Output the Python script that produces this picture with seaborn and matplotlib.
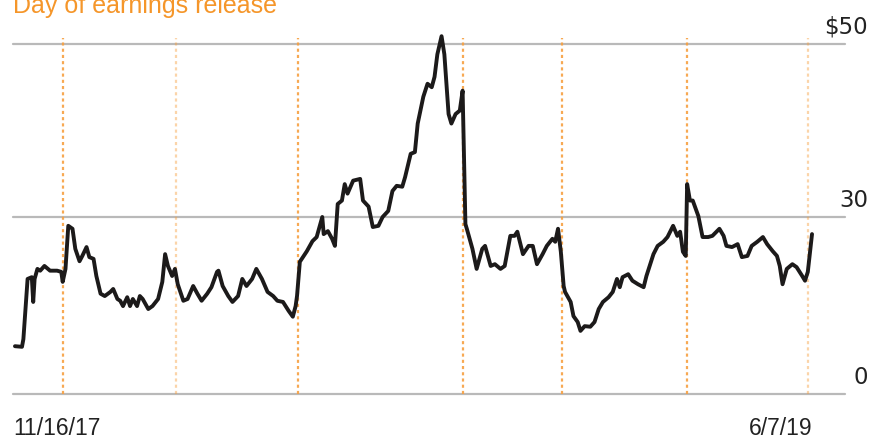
import numpy as np
import pandas as pd
import matplotlib
matplotlib.use("Agg")
import matplotlib.pyplot as plt
import seaborn as sns

# ---- data ----
start_date = "2017-11-16"
end_date = "2019-06-07"
# trading-day offsets (days since 11/16/17) and closing price
days = [0, 5, 6, 9, 12, 13, 14, 16, 18, 21, 25, 30, 33, 34, 36, 38, 41, 43, 46, 48,
        51, 53, 56, 58, 61, 64, 68, 70, 73, 75, 77, 80, 82, 84, 87, 89, 91, 95, 98, 102,
        105, 107, 109, 112, 114, 116, 120, 123, 127, 130, 133, 137, 140, 144, 145, 148, 152, 155, 159, 162,
        165, 169, 172, 176, 180, 184, 187, 191, 195, 198, 200, 201, 203, 208, 212, 215, 219, 220, 223, 226,
        228, 230, 233, 235, 237, 241, 246, 248, 252, 255, 259, 262, 266, 269, 272, 276, 278, 282, 285, 287,
        291, 294, 297, 299, 301, 304, 306, 309, 311, 314, 317, 319, 321, 322, 326, 329, 333, 335, 339, 342,
        346, 349, 353, 356, 358, 362, 366, 369, 372, 376, 379, 383, 385, 387, 389, 391, 392, 396, 398, 401,
        403, 406, 410, 413, 416, 419, 423, 426, 429, 431, 433, 437, 440, 444, 448, 450, 455, 458, 462, 465,
        469, 472, 474, 476, 478, 479, 481, 483, 487, 490, 494, 497, 502, 505, 507, 511, 515, 518, 522, 525,
        529, 533, 536, 540, 543, 545, 547, 550, 554, 557, 561, 563, 565, 568]
price = [8.1, 8.0, 9.3, 19.5, 19.8, 15.6, 19.5, 21.2, 20.9, 21.7, 20.9, 20.9, 20.7, 19.0, 21.2, 28.5, 28.0, 24.6, 22.5, 23.4,
         24.9, 23.2, 22.9, 20.0, 17.0, 16.6, 17.3, 17.8, 16.1, 15.8, 14.9, 16.4, 14.9, 16.1, 14.9, 16.6, 16.1, 14.4, 14.9, 16.1,
         19.0, 23.7, 21.7, 20.0, 21.2, 18.6, 15.8, 16.1, 18.3, 17.0, 15.8, 17.0, 18.1, 20.7, 20.9, 18.3, 16.6, 15.6, 16.6, 19.5,
         18.3, 19.5, 21.2, 19.5, 17.3, 16.6, 15.8, 15.6, 14.1, 13.1, 14.9, 16.6, 22.4, 24.2, 25.9, 26.6, 30.0, 27.1, 27.6, 26.3,
         25.1, 31.5, 31.9, 33.8, 32.7, 34.2, 34.4, 31.9, 31.2, 28.3, 28.5, 30.0, 30.7, 33.0, 33.6, 33.5, 34.6, 37.3, 37.5, 40.8,
         43.9, 45.4, 45.0, 46.2, 48.8, 50.9, 48.8, 41.9, 40.8, 41.9, 42.3, 44.6, 28.8, 28.0, 24.6, 21.2, 24.6, 25.1, 21.7, 22.0,
         21.2, 21.7, 26.8, 26.8, 27.5, 23.7, 25.1, 25.1, 22.0, 23.7, 25.1, 26.3, 25.8, 28.0, 24.1, 18.3, 17.3, 15.6, 13.2, 12.2,
         10.7, 11.5, 11.4, 12.2, 14.4, 15.6, 16.4, 17.3, 19.5, 18.1, 19.8, 20.3, 19.2, 18.6, 18.1, 20.0, 23.7, 25.1, 25.8, 26.6,
         28.5, 26.8, 27.5, 24.1, 23.4, 33.8, 31.9, 31.9, 30.1, 26.6, 26.6, 26.8, 28.0, 26.8, 25.1, 24.9, 25.4, 23.2, 23.4, 25.1,
         25.8, 26.6, 25.4, 24.2, 23.4, 21.7, 18.6, 21.2, 22.0, 21.5, 20.0, 19.2, 20.7, 27.1]
earnings_dates = ["2017-12-20", "2018-03-11", "2018-06-06", "2018-10-01",
                  "2018-12-11", "2019-03-10", "2019-06-04"]
earnings_faint = [False, True, False, False, False, False, True]
y_ticks = [0, 30, 50]
y_tick_labels = ["0", "30", "$50"]
x_labels = ["11/16/17", "6/7/19"]
title = "Day of earnings release"

# ---- build frame ----
t0 = pd.Timestamp(start_date)
df = pd.DataFrame({"date": t0 + pd.to_timedelta(days, unit="D"), "price": price})
ed = pd.to_datetime(earnings_dates)

# ---- style ----
sns.set_style("white")
plt.rcParams["font.family"] = ["DejaVu Sans"]

W, H = 886, 439
fig = plt.figure(figsize=(W / 100, H / 100), dpi=100)
ax_left, ax_right = 13 / W, 845 / W
ax_bottom, ax_top = (H - 395) / H, (H - 30) / H
ax = fig.add_axes([ax_left, ax_bottom, ax_right - ax_left, ax_top - ax_bottom])

K = 1.466
def fwd(v):
    v = np.asarray(v, dtype=float)
    return np.where(v <= 30, v, 30 + (v - 30) * K)
def inv(t):
    t = np.asarray(t, dtype=float)
    return np.where(t <= 30, t, 30 + (t - 30) / K)
ax.set_yscale("function", functions=(fwd, inv))
ax.set_ylim(0, 51.73)
ax.set_xlim(t0 - pd.Timedelta(days=1.4), t0 + pd.Timedelta(days=591.5))

grid_color = "#b9b9b9"
for v in y_ticks:
    ax.axhline(v, color=grid_color, lw=1.6, clip_on=False, zorder=1)

orange = "#f5962a"
for d, faint in zip(ed, earnings_faint):
    ax.axvline(d, ymin=0, ymax=0.975, color="#f7a040", lw=1.6,
               alpha=0.45 if faint else 0.9, dashes=(1.4, 1.4), zorder=2)

sns.lineplot(data=df, x="date", y="price", ax=ax, color="#1c1a1a", lw=2.8,
             zorder=3, legend=False)

for s in ax.spines.values():
    s.set_visible(False)
ax.set_xticks([])
ax.set_yticks([])
ax.set_xlabel("")
ax.set_ylabel("")
ax.patch.set_alpha(0)

# right-side value labels
for v, lab in zip(y_ticks, y_tick_labels):
    ax.annotate(lab, xy=(868 / W, v), xycoords=("figure fraction", "data"),
                xytext=(0, 8), textcoords="offset points",
                ha="right", va="baseline", fontsize=16.5, color="#222222")

# date labels
xl_font = ["Liberation Sans", "DejaVu Sans"]
ax.annotate(x_labels[0], xy=(df["date"].iloc[0], 3.5 / H),
            xycoords=("data", "figure fraction"), xytext=(-1.5, 0),
            textcoords="offset points", ha="left", va="baseline",
            fontsize=16.5, color="#222222", family=xl_font)
ax.annotate(x_labels[1], xy=(df["date"].iloc[-1], 3.5 / H),
            xycoords=("data", "figure fraction"),
            ha="right", va="baseline",
            fontsize=16.5, color="#222222", family=xl_font)

fig.text(13 / W, 1 - 12.5 / H, title, ha="left", va="baseline",
         fontsize=18, color=orange, family=["Liberation Sans", "DejaVu Sans"])

fig.savefig("out.png", dpi=100)
